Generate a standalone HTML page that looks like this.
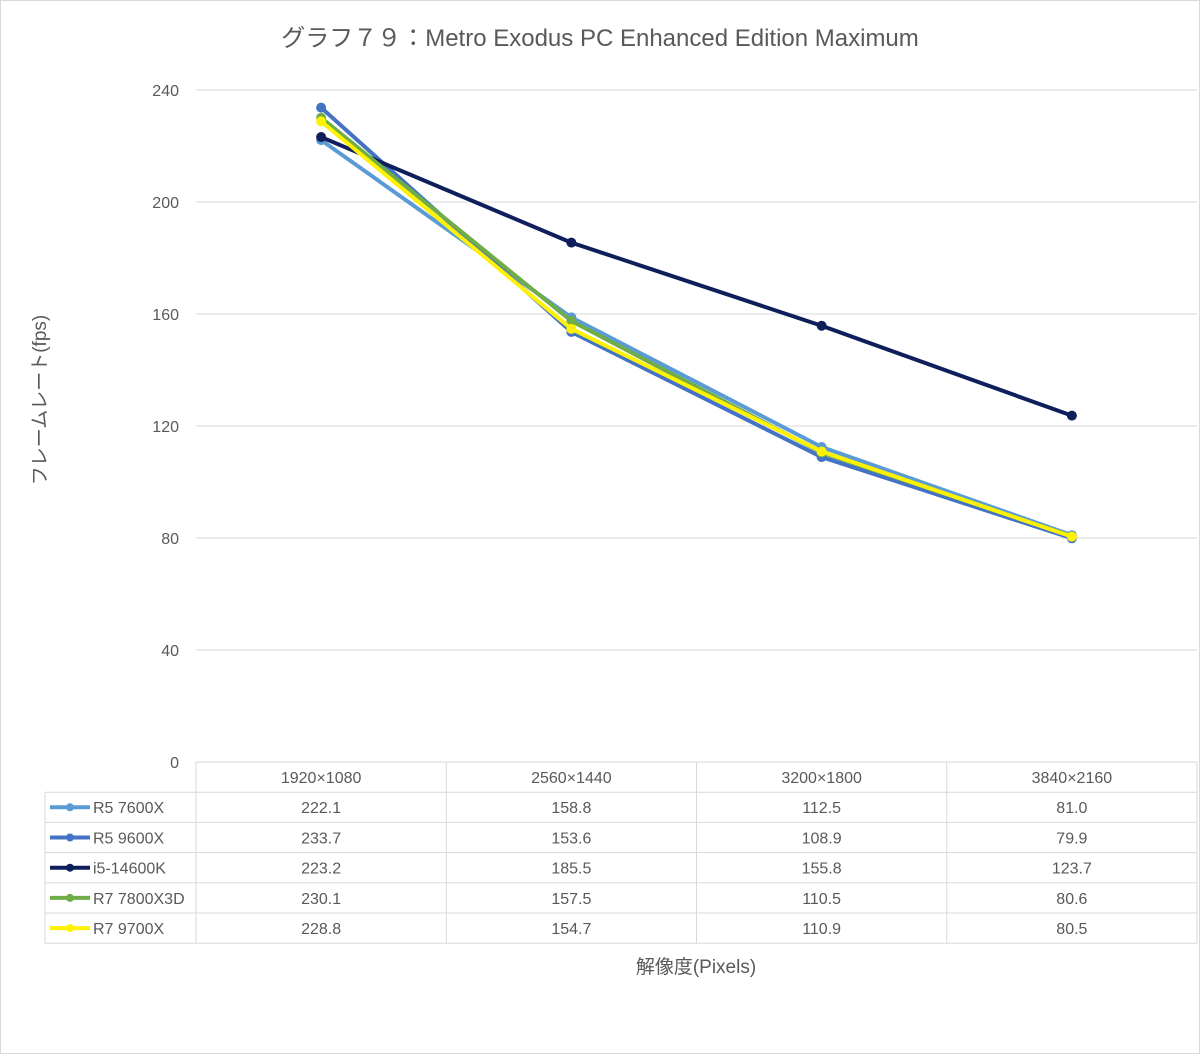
<!DOCTYPE html>
<html><head><meta charset="utf-8"><style>
body{margin:0;background:#fff;}
svg text{font-family:"Liberation Sans","Noto Sans CJK JP",sans-serif;fill:#595959;}
</style></head><body>
<svg id="chart" width="1200" height="1054" xmlns="http://www.w3.org/2000/svg">
<rect x="0.5" y="0.5" width="1199" height="1053" fill="#fff" stroke="#d9d9d9"/>
<text x="600" y="46" font-size="24" text-anchor="middle">グラフ７９：Metro Exodus PC Enhanced Edition Maximum</text>
<text transform="translate(46,400) rotate(-90)" font-size="19" text-anchor="middle">フレームレート(fps)</text>
<text x="696" y="973" font-size="19" text-anchor="middle">解像度(Pixels)</text>
<g id="grid"></g><g id="table"></g><g id="series"></g>
</svg>
<script>
const categories=["1920×1080","2560×1440","3200×1800","3840×2160"];
const seriesNames=["R5 7600X","R5 9600X","i5-14600K","R7 7800X3D","R7 9700X"];
const r5_7600x=[222.1,158.8,112.5,81.0];
const r5_9600x=[233.7,153.6,108.9,79.9];
const i5_14600k=[223.2,185.5,155.8,123.7];
const r7_7800x3d=[230.1,157.5,110.5,80.6];
const r7_9700x=[228.8,154.7,110.9,80.5];
const yTicks=[0,40,80,120,160,200,240];
const colors=["#5B9BD5","#4472C4","#0E1F5B","#70AD47","#FFF200"];
const allSeries=[r5_7600x,r5_9600x,i5_14600k,r7_7800x3d,r7_9700x];
const NS="http://www.w3.org/2000/svg";
const L=196,R=1197,T=90,B=762,colW=(R-L)/categories.length;
const y=v=>B-(v/240)*(B-T);
const x=i=>L+colW*(i+0.5);
function mk(tag,attrs,parent,text){const e=document.createElementNS(NS,tag);for(const k in attrs)e.setAttribute(k,attrs[k]);if(text!==undefined)e.textContent=text;parent.appendChild(e);return e;}
const grid=document.getElementById('grid');
yTicks.forEach(t=>{
 if(t>0){const g=mk('line',{x1:L,x2:R,y1:y(t),y2:y(t),stroke:'#d9d9d9','stroke-width':1},grid);
 
 }
 const lb=mk('text',{x:179,y:y(t)+6,'font-size':16,'text-anchor':'end'},grid,String(t));
 
 
});
const tb=document.getElementById('table');
const rowH=30.2,tTop=B;
const tBottom=tTop+rowH*(seriesNames.length+1);
for(let r=0;r<=seriesNames.length+1;r++){
 const yy=tTop+r*rowH;
 const ln=mk('line',{x1:r<=0?L:45,x2:R,y1:yy,y2:yy,stroke:'#d9d9d9'},tb);
 
 
}
for(let c=0;c<=categories.length;c++){
 const xx=L+c*colW;
 const ln=mk('line',{x1:xx,x2:xx,y1:tTop,y2:tBottom,stroke:'#d9d9d9'},tb);
 
 
}
const lv=mk('line',{x1:45,x2:45,y1:tTop+rowH,y2:tBottom,stroke:'#d9d9d9'},tb);


categories.forEach((c,i)=>{
 const t=mk('text',{x:x(i),y:tTop+21,'font-size':16,'text-anchor':'middle'},tb,c);
 
 
});
seriesNames.forEach((n,s)=>{
 const yy=tTop+(s+1)*rowH;
 const lk=mk('line',{x1:50,x2:90,y1:yy+rowH/2,y2:yy+rowH/2,stroke:colors[s],'stroke-width':4},tb);
 
 
 const lc=mk('circle',{cx:70,cy:yy+rowH/2,r:4,fill:colors[s]},tb);
 
 
 const nt=mk('text',{x:93,y:yy+21,'font-size':16},tb,n);
 
 
 allSeries[s].forEach((v,i)=>{
  const vt=mk('text',{x:x(i),y:yy+21,'font-size':16,'text-anchor':'middle'},tb,v.toFixed(1));
  
  
 });
});
const sg=document.getElementById('series');
allSeries.forEach((d,s)=>{
 const pl=mk('polyline',{points:d.map((v,i)=>x(i)+','+y(v)).join(' '),fill:'none',stroke:colors[s],'stroke-width':4,'stroke-linejoin':'round'},sg);
 
 
 d.forEach((v,i)=>{
  const c=mk('circle',{cx:x(i),cy:y(v),r:5,fill:colors[s]},sg);
  
  
 });
});
</script>
</body></html>
